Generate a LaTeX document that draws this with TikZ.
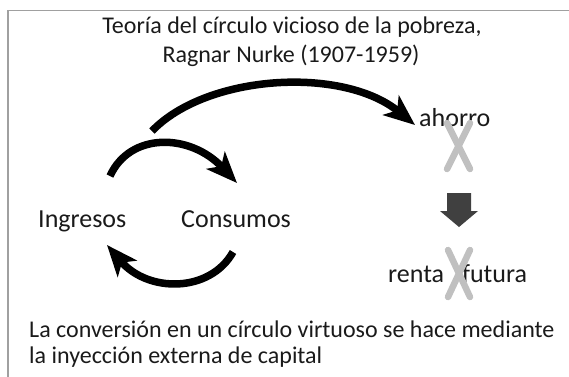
\documentclass[tikz,border=0pt]{standalone}
\usepackage{fontspec}
\setmainfont{Carlito}
\usetikzlibrary{arrows.meta}
\definecolor{framegray}{RGB}{160,160,160}
\definecolor{xgray}{RGB}{192,192,192}
\definecolor{darkarrow}{RGB}{64,64,64}
\definecolor{txtcol}{RGB}{26,26,26}
\begin{document}
\begin{tikzpicture}[x=1pt,y=-1pt,
  lbl/.style={inner sep=0pt, anchor=base west, text=txtcol, font=\fontsize{26}{30}\selectfont},
  big/.style={inner sep=0pt, text=txtcol, font=\fontsize{24}{28}\selectfont},
  curvearrow/.style={line width=7.5pt, draw=black, -{Stealth[length=31pt,width=25pt,inset=8pt]}},
  xmark/.style={line width=6.5pt, line cap=round, draw=xgray},
  frameline/.style={line width=1.5pt, draw=framegray}]
\useasboundingbox (0,0) rectangle (569,376);
% frame (only left and top edges visible)
\coordinate (fbl) at (8,380);
\coordinate (ftl) at (8,10.5);
\coordinate (ftr) at (575,10.5);
\draw[frameline] (fbl) -- (ftl) -- (ftr);
% title
\node[big, anchor=base] (t1) at (292,33) {Teoría del círculo vicioso de la pobreza,};
\node[big, anchor=base] (t2) at (291,62) {Ragnar Nurke (1907-1959)};
% labels
\node[lbl] (ing) at (38,227) {Ingresos};
\node[lbl] (con) at (181,227) {Consumos};
\node[lbl] (aho) at (419,126) {ahorro};
\node[lbl] (ren) at (388,282) {renta\hspace{18pt}futura};
% bottom text
\node[big, anchor=base west] (b1) at (29,337) {La conversión en un círculo virtuoso se hace mediante};
\node[big, anchor=base west] (b2) at (29,363) {la inyección externa de capital};
% curved arrows
\coordinate (bigS) at (152,131);
\coordinate (bigE) at (415,125);
\draw[curvearrow] (bigS) .. controls (207,74) and (343,66) .. (bigE);
\coordinate (smS) at (110,176);
\coordinate (smE) at (237,183);
\draw[curvearrow] (smS) .. controls (130,132) and (190,133) .. (smE);
\coordinate (loS) at (233,252);
\coordinate (loE) at (107,245);
\draw[curvearrow] (loS) .. controls (210,293) and (148,293) .. (loE);
% down block arrow
\fill[darkarrow] (447,193) -- (471,193) -- (471,211) -- (478,211) -- (459,227) -- (440,211) -- (447,211) -- cycle;
% gray crosses
\draw[xmark] (447,123) -- (470,169);
\draw[xmark] (470,123) -- (447,169);
\draw[xmark] (448,250) -- (470,297);
\draw[xmark] (470,250) -- (448,297);
\end{tikzpicture}
\end{document}
